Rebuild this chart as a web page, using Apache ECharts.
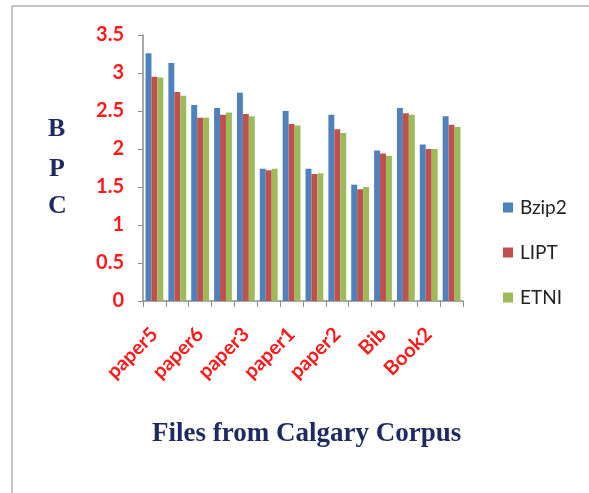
<!DOCTYPE html>
<html>
<head>
<meta charset="utf-8">
<script src="https://cdn.jsdelivr.net/npm/echarts@6/dist/echarts.min.js"></script>
<style>html,body{margin:0;padding:0;background:#fff}#c{width:589px;height:493px}</style>
</head>
<body>
<div id="c"></div>
<script>
const categories = ['paper5','paper4','paper6','progc','paper3','progp','paper1','progl','paper2','trans','Bib','News','Book2','Book1'];
const seriesNames = ['Bzip2','LIPT','ETNI'];
const bzip2 = [3.26,3.13,2.58,2.54,2.74,1.74,2.50,1.74,2.45,1.53,1.98,2.54,2.06,2.43];
const lipt  = [2.95,2.75,2.41,2.45,2.46,1.72,2.33,1.67,2.26,1.47,1.94,2.47,2.00,2.32];
const etni  = [2.94,2.70,2.41,2.48,2.43,1.74,2.31,1.68,2.21,1.50,1.91,2.45,2.00,2.29];
const yTicks = [0,0.5,1,1.5,2,2.5,3,3.5];
const colors = ['#4F81BD','#C0504D','#9BBB59'];

const chart = echarts.init(document.getElementById('c'), null, {renderer:'canvas'});
const values = [bzip2, lipt, etni];
chart.setOption({
  animation:false,
  backgroundColor:'#fff',
  color: colors,
  grid:{left:143,right:126,top:35,bottom:192,containLabel:false},
  legend:{
    orient:'vertical', left:498, top:193, itemGap:26,
    itemWidth:10, itemHeight:10, icon:'rect',
    textStyle:{fontFamily:'Lato', fontSize:19, color:'#222', padding:[0,0,0,2]},
    data: seriesNames
  },
  xAxis:{
    type:'category', data:categories,
    axisLine:{lineStyle:{color:'#8c8c8c', width:1.5}},
    axisTick:{show:true, alignWithLabel:false, interval:0, length:6, lineStyle:{color:'#8c8c8c'}},
    axisLabel:{interval:1, rotate:45, color:'#ff1a1a', fontFamily:'Lato', fontWeight:'bold', fontSize:20, margin:30}
  },
  yAxis:{
    type:'value', min:0, max:3.5, interval:0.5,
    axisLine:{show:true, lineStyle:{color:'#8c8c8c', width:1.5}},
    axisTick:{show:true, length:5, lineStyle:{color:'#8c8c8c'}},
    splitLine:{show:false},
    axisLabel:{color:'#ff1a1a', fontFamily:'Lato', fontWeight:'bold', fontSize:20, margin:19,
      formatter:v => yTicks.includes(v) ? String(v) : ''}
  },
  series: seriesNames.map((n,i)=>({
    name:n, type:'bar', data:values[i], barGap:'0%', barCategoryGap:'22%',
    itemStyle:{color:colors[i]}
  })),
  graphic:[
    {type:'line', shape:{x1:12,y1:6,x2:589,y2:6}, style:{stroke:'#b0b0b0', lineWidth:1.5}},
    {type:'line', shape:{x1:12,y1:6,x2:12,y2:493}, style:{stroke:'#b0b0b0', lineWidth:1.5}},
    {type:'text', left:48, top:116, style:{text:'B', font:'bold 26px "Liberation Serif"', fill:'#1F2A5E'}},
    {type:'text', left:49, top:156, style:{text:'P', font:'bold 26px "Liberation Serif"', fill:'#1F2A5E'}},
    {type:'text', left:48, top:193, style:{text:'C', font:'bold 26px "Liberation Serif"', fill:'#1F2A5E'}},
    {type:'text', left:152, top:421, style:{text:'Files from Calgary Corpus', font:'bold 27px "Liberation Serif"', fill:'#1F2A5E'}}
  ]
});
</script>
</body>
</html>
